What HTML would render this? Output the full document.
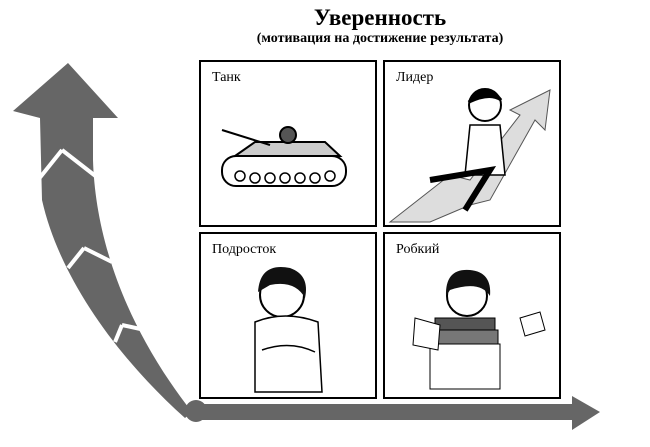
<!DOCTYPE html>
<html><head><meta charset="utf-8"><style>
body{margin:0;width:650px;height:447px;background:#fff;overflow:hidden;font-family:"Liberation Serif","DejaVu Serif",serif}
.t{position:absolute;left:0;width:760px;text-align:center;font-weight:bold}
.box{position:absolute;border:2.5px solid #000;box-sizing:border-box;width:178px;height:167px}
.lbl{position:absolute;left:11px;top:8px;font-size:14px}
</style></head><body>
<div class="t" style="top:5px;font-size:23px;">Уверенность</div>
<div class="t" style="top:31px;font-size:14px;">(мотивация на достижение результата)</div>
<div class="box" style="left:199px;top:60px"><div class="lbl">Танк</div></div>
<div class="box" style="left:383px;top:60px"><div class="lbl">Лидер</div></div>
<div class="box" style="left:199px;top:232px"><div class="lbl">Подросток</div></div>
<div class="box" style="left:383px;top:232px"><div class="lbl">Робкий</div></div>
<svg width="650" height="447" style="position:absolute;left:0;top:0">
<path d="M68,63 L118,118 L93,118 L93,160 C95,230 120,320 192,412 L185,418 C120,360 60,280 42,200 L40,118 L13,111 Z" fill="#666"/>
<g stroke="#fff" stroke-width="4" fill="none">
<line x1="38" y1="180" x2="62" y2="150"/><line x1="62" y1="150" x2="98" y2="178"/>
<line x1="68" y1="268" x2="84" y2="248"/><line x1="84" y1="248" x2="112" y2="262"/>
<line x1="115" y1="342" x2="122" y2="325"/><line x1="122" y1="325" x2="145" y2="330"/>
</g>
<circle cx="196" cy="411" r="11" fill="#666"/>
<path d="M196,404 L572,404 L572,396 L600,412 L572,430 L572,420 L196,420 Z" fill="#666"/>
<g stroke="#000" stroke-width="2" fill="#fff">
<rect x="222" y="156" width="124" height="30" rx="14"/>
<path d="M235,156 L255,142 L325,142 L340,156 Z" fill="#ccc"/>
<line x1="222" y1="130" x2="270" y2="145"/>
<circle cx="288" cy="135" r="8" fill="#555"/>
</g>
<g fill="#fff" stroke="#000" stroke-width="1.5">
<circle cx="240" cy="176" r="5"/><circle cx="255" cy="178" r="5"/><circle cx="270" cy="178" r="5"/><circle cx="285" cy="178" r="5"/><circle cx="300" cy="178" r="5"/><circle cx="315" cy="178" r="5"/><circle cx="330" cy="176" r="5"/>
</g>
<path d="M390,222 L450,175 L470,180 L520,115 L510,110 L550,90 L545,130 L535,120 L490,200 L470,205 L430,222 Z" fill="#ddd" stroke="#555"/>
<circle cx="485" cy="105" r="16" fill="#fff" stroke="#000" stroke-width="2"/>
<path d="M469,102 Q485,80 501,100 Q490,92 469,102Z" fill="#000" stroke="#000" stroke-width="3"/>
<path d="M470,125 L500,125 L505,175 L465,175 Z" fill="#fff" stroke="#000" stroke-width="1.5"/>
<path d="M430,180 L490,170 L465,210" fill="none" stroke="#000" stroke-width="6"/>
<circle cx="282" cy="295" r="22" fill="#fff" stroke="#000" stroke-width="2"/>
<path d="M258,292 Q260,262 290,268 Q310,275 305,298 Q295,280 270,285Z" fill="#111"/>
<path d="M255,322 Q285,310 318,322 L322,392 L255,392 Z" fill="#fff" stroke="#000" stroke-width="1.5"/>
<path d="M262,350 Q290,340 315,352" fill="none" stroke="#000" stroke-width="1.5"/>
<circle cx="467" cy="296" r="20" fill="#fff" stroke="#000" stroke-width="2"/>
<path d="M446,296 Q445,268 470,270 Q492,272 490,296 Q480,280 450,290Z" fill="#111"/>
<rect x="435" y="318" width="60" height="12" fill="#555" stroke="#000"/>
<rect x="432" y="330" width="66" height="14" fill="#777" stroke="#000"/>
<rect x="430" y="344" width="70" height="45" fill="#fff" stroke="#000"/>
<path d="M415,318 L440,325 L438,350 L413,345Z M520,318 L540,312 L545,330 L525,336Z" fill="#fff" stroke="#000"/>
</svg>
</body></html>
